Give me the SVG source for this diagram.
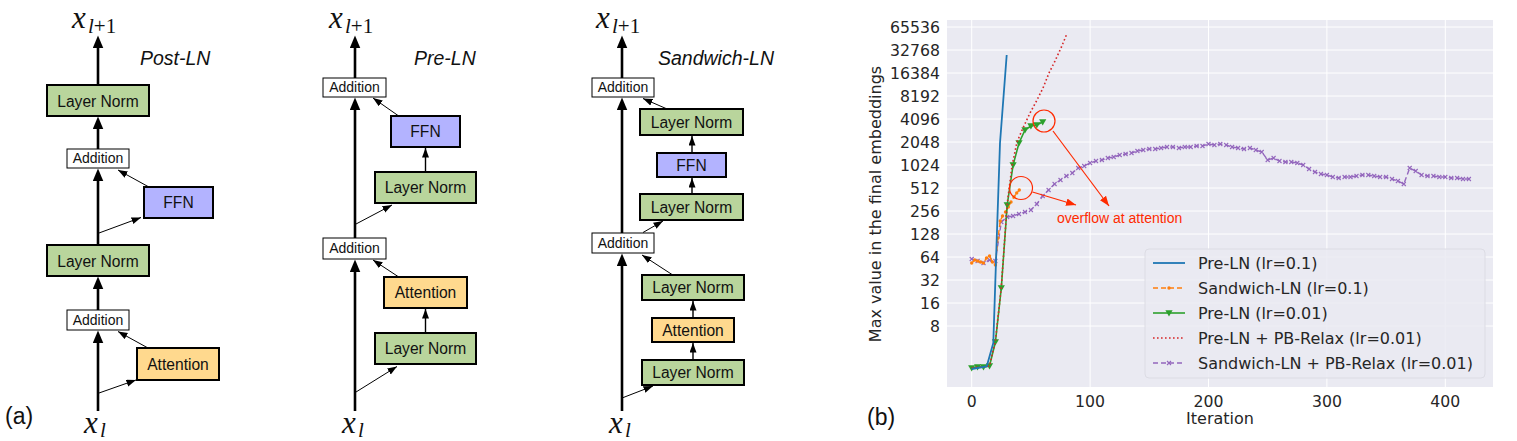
<svg xmlns="http://www.w3.org/2000/svg" width="1517" height="441" viewBox="0 0 1517 441">
<style>
.ln{fill:#b9d59c;stroke:#000;stroke-width:2}
.ffn{fill:#b3b3ff;stroke:#000;stroke-width:2}
.att{fill:#ffd98e;stroke:#000;stroke-width:2}
.add{fill:#fff;stroke:#000;stroke-width:1}
.bt{font-family:"Liberation Sans",Arial,sans-serif;font-size:15.6px;fill:#111;text-anchor:middle}
.at{font-family:"Liberation Sans",Arial,sans-serif;font-size:14px;fill:#111;text-anchor:middle}
.title{font-family:"Liberation Sans",Arial,sans-serif;font-size:19.5px;font-style:italic;fill:#111}
.mx{font-family:"Liberation Serif","Times New Roman",serif;fill:#111}
.thick{stroke:#000;stroke-width:2.6;fill:none;marker-end:url(#ah)}
.thin{stroke:#000;stroke-width:1;fill:none;marker-end:url(#ahs)}
.vs{stroke:#000;stroke-width:1.4;fill:none;marker-end:url(#ahs)}
.tk{font-family:"DejaVu Sans",sans-serif;font-size:15.7px;fill:#262626}
.lg{font-family:"DejaVu Sans",sans-serif;font-size:16px;fill:#262626}
.grid{stroke:#fff;stroke-width:1}
.red{stroke:#ff2a00;stroke-width:1.2;fill:none}
.lab{font-family:"Liberation Sans",Arial,sans-serif;font-size:23px;fill:#111}
</style>
<defs>
<marker id="ah" markerUnits="userSpaceOnUse" markerWidth="13" markerHeight="11" refX="8" refY="5.25" orient="auto"><path d="M0,0 L12.5,5.25 L0,10.5 z" fill="#000"/></marker>
<marker id="ahs" markerUnits="userSpaceOnUse" markerWidth="10" markerHeight="8" refX="9.5" refY="3.5" orient="auto"><path d="M0,0 L9.5,3.5 L0,7 z" fill="#000"/></marker>
<marker id="ahr" markerUnits="userSpaceOnUse" markerWidth="11" markerHeight="8" refX="10" refY="3.75" orient="auto"><path d="M0,0 L10,3.75 L0,7.5 z" fill="#ff2a00"/></marker>
<marker id="tri" markerUnits="userSpaceOnUse" viewBox="-5 -5 10 10" markerWidth="10" markerHeight="10" refX="0" refY="0" overflow="visible"><path d="M-3.6,-2.8 L3.6,-2.8 L0,3.6 z" fill="#2ca02c"/></marker>
<marker id="dot" markerUnits="userSpaceOnUse" viewBox="-3 -3 6 6" markerWidth="6" markerHeight="6" refX="0" refY="0" overflow="visible"><circle r="1.7" fill="#ff7f0e"/></marker>
<marker id="xm" markerUnits="userSpaceOnUse" viewBox="-3 -3 6 6" markerWidth="6" markerHeight="6" refX="0" refY="0" overflow="visible"><path d="M-2,-2 L2,2 M-2,2 L2,-2" stroke="#9467bd" stroke-width="1.1" fill="none"/></marker>
</defs>
<rect width="1517" height="441" fill="#fff"/>

<!-- ===== Post-LN ===== -->
<g id="post-ln-title"><text class="title" x="140" y="65">Post-LN</text></g>
<g id="post-ln-out"><text class="mx" x="72" y="28" font-size="31" font-style="italic">x</text><text class="mx" x="88" y="33" font-size="21"><tspan font-style="italic">l</tspan>+1</text></g>
<g id="post-ln-in"><text class="mx" x="84" y="433" font-size="31" font-style="italic">x</text><text class="mx" x="100" y="437" font-size="21" font-style="italic">l</text></g>
<g id="pl-ln2"><rect class="ln" x="47" y="85" width="102" height="31"/><text class="bt" x="98" y="106.5">Layer Norm</text></g>
<g id="pl-add2"><rect class="add" x="67" y="149" width="62" height="19"/><text class="at" x="98" y="163">Addition</text></g>
<g id="pl-ffn"><rect class="ffn" x="144" y="187" width="69" height="31"/><text class="bt" x="178.5" y="208">FFN</text></g>
<g id="pl-ln1"><rect class="ln" x="47" y="245" width="102" height="31"/><text class="bt" x="98" y="266.5">Layer Norm</text></g>
<g id="pl-add1"><rect class="add" x="67" y="310" width="62" height="20"/><text class="at" x="98" y="324.5">Addition</text></g>
<g id="pl-att"><rect class="att" x="137" y="348" width="82" height="32"/><text class="bt" x="178" y="369.5">Attention</text></g>

<!-- ===== Pre-LN ===== -->
<g id="pre-ln-title"><text class="title" x="414" y="65">Pre-LN</text></g>
<g id="pre-ln-out"><text class="mx" x="329" y="28" font-size="31" font-style="italic">x</text><text class="mx" x="345" y="33" font-size="21"><tspan font-style="italic">l</tspan>+1</text></g>
<g id="pre-ln-in"><text class="mx" x="342" y="433" font-size="31" font-style="italic">x</text><text class="mx" x="358" y="437" font-size="21" font-style="italic">l</text></g>
<g id="pr-add2"><rect class="add" x="323" y="78" width="63" height="19"/><text class="at" x="354.5" y="92">Addition</text></g>
<g id="pr-ffn"><rect class="ffn" x="391" y="116" width="69" height="31"/><text class="bt" x="425.5" y="137">FFN</text></g>
<g id="pr-ln2"><rect class="ln" x="375" y="172" width="101" height="31"/><text class="bt" x="425.5" y="193">Layer Norm</text></g>
<g id="pr-add1"><rect class="add" x="323" y="238" width="63" height="21"/><text class="at" x="354.5" y="253">Addition</text></g>
<g id="pr-att"><rect class="att" x="384" y="277" width="83" height="31"/><text class="bt" x="425.5" y="298">Attention</text></g>
<g id="pr-ln1"><rect class="ln" x="375" y="333" width="101" height="31"/><text class="bt" x="425.5" y="354">Layer Norm</text></g>

<!-- ===== Sandwich-LN ===== -->
<g id="sw-ln-title"><text class="title" x="658" y="65">Sandwich-LN</text></g>
<g id="sw-ln-out"><text class="mx" x="596" y="28" font-size="31" font-style="italic">x</text><text class="mx" x="612" y="33" font-size="21"><tspan font-style="italic">l</tspan>+1</text></g>
<g id="sw-ln-in"><text class="mx" x="609" y="433" font-size="31" font-style="italic">x</text><text class="mx" x="625" y="437" font-size="21" font-style="italic">l</text></g>
<g id="sw-add2"><rect class="add" x="592" y="78" width="62" height="19"/><text class="at" x="623" y="92">Addition</text></g>
<g id="sw-ln4"><rect class="ln" x="640" y="109" width="103" height="26"/><text class="bt" x="691.5" y="127.5">Layer Norm</text></g>
<g id="sw-ffn"><rect class="ffn" x="657" y="153" width="69" height="24"/><text class="bt" x="691.5" y="170.5">FFN</text></g>
<g id="sw-ln3"><rect class="ln" x="640" y="194" width="103" height="26"/><text class="bt" x="691.5" y="212.5">Layer Norm</text></g>
<g id="sw-add1"><rect class="add" x="592" y="233" width="62" height="20"/><text class="at" x="623" y="247.5">Addition</text></g>
<g id="sw-ln2"><rect class="ln" x="642" y="275" width="102" height="25"/><text class="bt" x="693" y="293">Layer Norm</text></g>
<g id="sw-att"><rect class="att" x="652" y="318" width="82" height="24"/><text class="bt" x="693" y="335.5">Attention</text></g>
<g id="sw-ln1"><rect class="ln" x="642" y="360" width="102" height="25"/><text class="bt" x="693" y="378">Layer Norm</text></g>

<g id="label-a"><text class="lab" x="5" y="424">(a)</text></g>

<!-- ===== connectors ===== -->
<g id="connectors">
<!-- Post-LN -->
<line class="thick" x1="98" y1="411" x2="98" y2="335"/>
<line class="thick" x1="98" y1="310" x2="98" y2="281"/>
<line class="thick" x1="98" y1="245" x2="98" y2="173"/>
<line class="thick" x1="98" y1="149" x2="98" y2="121"/>
<line class="thick" x1="98" y1="85" x2="98" y2="40"/>
<line class="thin" x1="99" y1="393" x2="136" y2="380"/>
<line class="thin" x1="148" y1="348" x2="118" y2="331.5"/>
<line class="thin" x1="99" y1="233" x2="141" y2="217.5"/>
<line class="thin" x1="148" y1="186.5" x2="118" y2="170"/>
<!-- Pre-LN -->
<line class="thick" x1="355" y1="411" x2="355" y2="264"/>
<line class="thick" x1="355" y1="238" x2="355" y2="102"/>
<line class="thick" x1="355" y1="78" x2="355" y2="40"/>
<line class="thin" x1="356" y1="392" x2="397" y2="366.5"/>
<line class="vs" x1="425.5" y1="333" x2="425.5" y2="309"/>
<line class="thin" x1="398" y1="276.5" x2="373" y2="260"/>
<line class="thin" x1="356" y1="224" x2="392" y2="205"/>
<line class="vs" x1="425.5" y1="172" x2="425.5" y2="148"/>
<line class="thin" x1="398" y1="115.5" x2="373" y2="98"/>
<!-- Sandwich-LN -->
<line class="thick" x1="622" y1="411" x2="622" y2="258"/>
<line class="thick" x1="622" y1="233" x2="622" y2="102"/>
<line class="thick" x1="622" y1="78" x2="622" y2="40"/>
<line class="thin" x1="622" y1="398" x2="653" y2="386"/>
<line class="vs" x1="693" y1="360" x2="693" y2="343"/>
<line class="vs" x1="693" y1="318" x2="693" y2="301"/>
<line class="thin" x1="672" y1="274.5" x2="642" y2="255"/>
<line class="thin" x1="643" y1="232.5" x2="663" y2="221"/>
<line class="vs" x1="692" y1="194" x2="692" y2="178"/>
<line class="vs" x1="692" y1="153" x2="692" y2="136"/>
<line class="thin" x1="666" y1="108.5" x2="643" y2="98.5"/>
</g>

<!-- ===== Plot (b) ===== -->
<g id="plot">
<rect x="947" y="20" width="546" height="367" fill="#eaeaf2"/>
<g class="grid">
<line x1="971.7" y1="20" x2="971.7" y2="387"/><line x1="1090.1" y1="20" x2="1090.1" y2="387"/><line x1="1208.5" y1="20" x2="1208.5" y2="387"/><line x1="1326.9" y1="20" x2="1326.9" y2="387"/><line x1="1445.3" y1="20" x2="1445.3" y2="387"/>
<line x1="947" y1="27" x2="1493" y2="27"/><line x1="947" y1="50" x2="1493" y2="50"/><line x1="947" y1="73" x2="1493" y2="73"/><line x1="947" y1="96" x2="1493" y2="96"/><line x1="947" y1="119" x2="1493" y2="119"/><line x1="947" y1="142" x2="1493" y2="142"/><line x1="947" y1="165" x2="1493" y2="165"/><line x1="947" y1="188" x2="1493" y2="188"/><line x1="947" y1="211" x2="1493" y2="211"/><line x1="947" y1="234" x2="1493" y2="234"/><line x1="947" y1="257" x2="1493" y2="257"/><line x1="947" y1="280" x2="1493" y2="280"/><line x1="947" y1="303" x2="1493" y2="303"/><line x1="947" y1="326" x2="1493" y2="326"/>
</g>
<g class="tk" text-anchor="end">
<text x="940" y="32.7">65536</text><text x="940" y="55.7">32768</text><text x="940" y="78.7">16384</text><text x="940" y="101.7">8192</text><text x="940" y="124.7">4096</text><text x="940" y="147.7">2048</text><text x="940" y="170.7">1024</text><text x="940" y="193.7">512</text><text x="940" y="216.7">256</text><text x="940" y="239.7">128</text><text x="940" y="262.7">64</text><text x="940" y="285.7">32</text><text x="940" y="308.7">16</text><text x="940" y="331.7">8</text>
</g>
<g class="tk" text-anchor="middle">
<text x="971.7" y="406.5">0</text><text x="1090.1" y="406.5">100</text><text x="1208.5" y="406.5">200</text><text x="1326.9" y="406.5">300</text><text x="1445.3" y="406.5">400</text>
</g>
<text class="lg" x="1220" y="424" text-anchor="middle">Iteration</text>
<text class="lg" font-size="16.4px" text-anchor="middle" transform="translate(880.5 204) rotate(-90)">Max value in the final embeddings</text>

<!-- series -->
<polyline fill="none" stroke="#9467bd" stroke-width="1.4" stroke-dasharray="5,3" marker-start="url(#xm)" marker-mid="url(#xm)" marker-end="url(#xm)" points="971.7,259 977.6,261 983.5,263 989.5,260 995.4,261 1001.3,222 1007.2,217 1013.1,216 1019,214 1025,212 1030.9,210 1036.8,204 1042.7,196 1048.6,190 1054.6,184 1060.5,180 1066.4,176 1072.3,173 1078.2,168 1084.2,166 1090.1,163 1096,161 1101.9,160 1107.8,158 1113.7,157 1119.7,155 1125.6,154 1131.5,153 1137.4,151 1143.3,150 1149.3,149 1155.2,149 1161.1,148 1167,147 1172.9,147 1178.9,148 1184.8,147 1190.7,147 1196.6,146 1202.5,146 1208.5,144 1214.4,145 1220.3,144 1226.2,145 1232.1,147 1238.1,148 1244,149 1249.9,148 1255.8,150 1261.7,152 1267.7,160 1273.6,158 1279.5,161 1285.4,162 1291.3,162 1297.3,163 1303.2,165 1309.1,169 1315,172 1320.9,174 1326.9,175 1332.8,177 1338.7,178 1344.6,177 1350.5,177 1356.5,176 1362.4,175 1368.3,175 1374.2,176 1380.1,177 1386.1,177 1392,179 1397.9,181 1403.8,184 1409.7,168 1415.7,171 1421.6,175 1427.5,176 1433.4,176 1439.3,177 1445.3,177 1451.2,178 1457.1,178 1463,179 1468.9,179"/>
<polyline fill="none" stroke="#ff7f0e" stroke-width="1.4" stroke-dasharray="5,3" marker-start="url(#dot)" marker-mid="url(#dot)" marker-end="url(#dot)" points="971.7,263 974.7,260 977.6,261 980.6,262 983.5,263 986.5,258 989.5,256 992.4,262 995.4,265 998,238 1000.3,221 1002.5,216 1005.5,212 1008.3,207 1011,202 1014,197 1016.7,193 1019.3,190"/>
<polyline fill="none" stroke="#2ca02c" stroke-width="1.6" marker-start="url(#tri)" marker-mid="url(#tri)" marker-end="url(#tri)" points="971.7,368 977.6,367 983.5,367 989.5,366 995.4,342 1001.3,288 1007.2,205 1013.1,165 1019,143 1025,130 1030.9,126 1036.8,125 1042.7,122"/>
<polyline fill="none" stroke="#d62728" stroke-width="1.6" stroke-dasharray="1.6,2.4" points="971.7,368 977.6,367 983.5,367 989.5,366 995.4,341 1001.3,287 1007.2,204 1012,166 1017,142 1023,128 1030,113 1037,100 1043,88 1049,73 1055,61 1061,48 1066.4,35"/>
<polyline fill="none" stroke="#1f77b4" stroke-width="1.8" points="971.7,369 986.7,366.5 993.3,343 996.7,240 1000,143 1006.7,55"/>

<!-- annotations -->
<g id="annotation">
<circle class="red" cx="1044" cy="121" r="11"/>
<circle class="red" cx="1021" cy="188" r="11.5"/>
<line class="red" x1="1053" y1="131" x2="1109" y2="206" marker-end="url(#ahr)"/>
<line class="red" x1="1032.5" y1="192" x2="1076" y2="205" marker-end="url(#ahr)"/>
<text x="1057" y="222.5" font-family="Liberation Sans, Arial, sans-serif" font-size="14px" fill="#ff2a00">overflow at attention</text>
</g>

<!-- legend -->
<g id="legend">
<rect x="1145" y="249" width="340" height="129" rx="4" fill="#eaeaf2" fill-opacity="0.85" stroke="#dcdce4" stroke-width="1"/>
<line x1="1153" y1="263" x2="1185" y2="263" stroke="#1f77b4" stroke-width="1.8"/>
<line x1="1153" y1="288" x2="1185" y2="288" stroke="#ff7f0e" stroke-width="1.4" stroke-dasharray="5,3"/>
<circle cx="1169" cy="288" r="1.7" fill="#ff7f0e"/>
<line x1="1153" y1="313" x2="1185" y2="313" stroke="#2ca02c" stroke-width="1.6"/>
<path d="M1165.4,310.2 L1172.6,310.2 L1169,316.6 z" fill="#2ca02c"/>
<line x1="1153" y1="338" x2="1185" y2="338" stroke="#d62728" stroke-width="1.6" stroke-dasharray="1.6,2.4"/>
<line x1="1153" y1="363" x2="1185" y2="363" stroke="#9467bd" stroke-width="1.4" stroke-dasharray="5,3"/>
<path d="M1167,361 L1171,365 M1167,365 L1171,361" stroke="#9467bd" stroke-width="1.1"/>
<text class="lg" x="1198" y="268.7">Pre-LN (lr=0.1)</text>
<text class="lg" x="1198" y="293.7">Sandwich-LN (lr=0.1)</text>
<text class="lg" x="1198" y="318.7">Pre-LN (lr=0.01)</text>
<text class="lg" x="1198" y="343.7">Pre-LN + PB-Relax (lr=0.01)</text>
<text class="lg" x="1198" y="368.7">Sandwich-LN + PB-Relax (lr=0.01)</text>
</g>
</g>
<g id="label-b"><text class="lab" x="867" y="425" font-size="24px">(b)</text></g>
</svg>
